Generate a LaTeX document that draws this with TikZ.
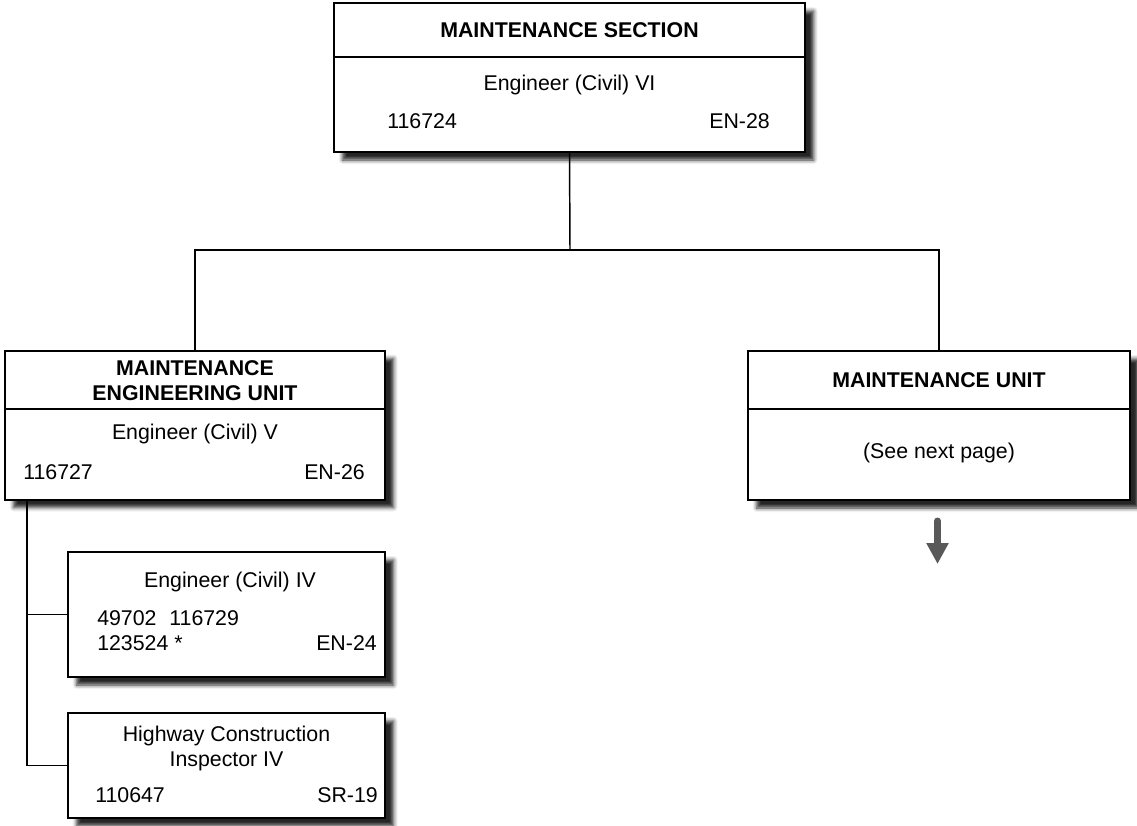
\documentclass[tikz,border=0pt]{standalone}
\usepackage{fontspec}
\setmainfont{Liberation Sans}
\usetikzlibrary{arrows.meta,shadows.blur}

\begin{document}
\begin{tikzpicture}[x=0.75pt, y=-0.75pt,
  every node/.style={font=\fontsize{16}{18.5}\selectfont, inner sep=0pt},
  unitbox/.style={draw=black, line width=1.5pt, fill=white,
    blur shadow={shadow xshift=6.5pt, shadow yshift=-6pt, shadow blur radius=3pt, shadow opacity=85}},
  heading/.style={font=\fontsize{16}{18.75}\selectfont\bfseries, align=center},
  link/.style={draw=black, line width=1.1pt}]
\useasboundingbox (0,0) rectangle (1137,825);

% boxes
\node[unitbox, minimum width=353.25pt, minimum height=111.75pt] (sect) at (569.5,77.5) {};
\node[unitbox, minimum width=285pt, minimum height=111.75pt] (meu) at (195,425) {};
\node[unitbox, minimum width=286.5pt, minimum height=111.75pt] (mu) at (939,425.5) {};
\node[unitbox, minimum width=237.75pt, minimum height=93.75pt] (eng) at (226.5,614.5) {};
\node[unitbox, minimum width=237.75pt, minimum height=78.75pt] (hci) at (226.5,765.5) {};

\draw[line width=1.1pt] (sect.west |- 0,57) -- (sect.east |- 0,57);
\draw[line width=1.1pt] (meu.west |- 0,409) -- (meu.east |- 0,409);
\draw[line width=1.1pt] (mu.west |- 0,409) -- (mu.east |- 0,409);

% texts
\node[heading] (secttitle) at (569.5,30) {MAINTENANCE SECTION};
\node (sectpos) at (569.5,85) {Engineer (Civil) VI};
\node[anchor=west] (sectno) at (387,121) {116724};
\node[anchor=east] (sectgr) at (770,121) {EN-28};

\node[heading] (meutitle) at (195,381) {MAINTENANCE\\ENGINEERING UNIT};
\node (meupos) at (195,434) {Engineer (Civil) V};
\node[anchor=west] (meuno) at (23,472.5) {116727};
\node[anchor=east] (meugr) at (365,472.5) {EN-26};

\node[heading] (mutitle) at (939,380) {MAINTENANCE UNIT};
\node (munote) at (939,453) {(See next page)};

\node (engpos) at (230,582) {Engineer (Civil) IV};
\node[anchor=west] (engno) at (97,618) {49702\hspace{0.6em}116729};
\node[anchor=west] (engno2) at (97,643) {123524 *};
\node[anchor=east] (enggr) at (377,643) {EN-24};

\node[align=center] (hcipos) at (226.5,748.5) {Highway Construction\\Inspector IV};
\node[anchor=west] (hcino) at (95,795) {110647};
\node[anchor=east] (hcigr) at (378,795) {SR-19};

% connectors
\coordinate (fork) at (570,250);
\path (meu.south west) ++(23,0) coordinate (spine);
\draw[link] (sect.south) -- (fork);
\draw[link] (meu.north) |- (fork) -| (mu.north);
\draw[link] (spine) |- (eng.west);
\draw[link] (spine) |- (hci.west);

\coordinate (next) at (937.5,521);
\draw[draw=black!65, line width=5.25pt, line cap=round,
  -{Triangle[width=15.75pt, length=15.75pt]}] (next) -- ++(0,43);
\end{tikzpicture}
\end{document}
